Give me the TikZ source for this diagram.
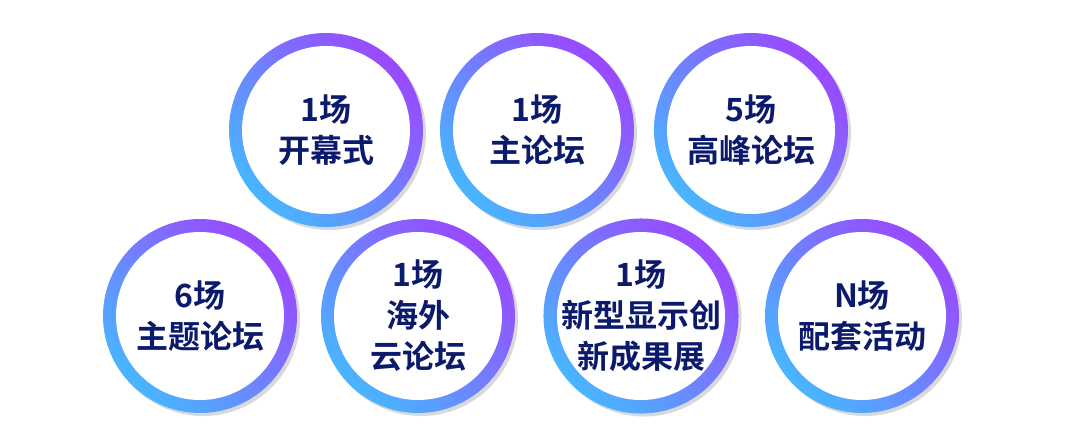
\documentclass[tikz,border=0pt]{standalone}
\usepackage{fontspec}
\newfontfamily\cjk{Noto Sans CJK SC}[BoldFont={Noto Sans CJK SC Bold}]
\usetikzlibrary{shadows}
\definecolor{ringblue}{HTML}{48B6FF}
\definecolor{ringpurple}{HTML}{9A48FF}
\definecolor{txtnavy}{HTML}{0B1A6B}
\tikzset{
  ringbox/.style={circle, minimum size=194pt, inner sep=0pt,
    left color=ringblue, right color=ringpurple, shading angle=135,
    drop shadow={shadow xshift=3pt, shadow yshift=-3pt, opacity=0.15, fill=black},
    path picture={\fill[white] (path picture bounding box.center) circle (84pt);},
    font=\cjk\bfseries\fontsize{32}{41}\selectfont, text=txtnavy, align=center}
}
\begin{document}
\begin{tikzpicture}[x=1pt,y=-1pt]
\useasboundingbox[fill=white] (0,0) rectangle (1080,444);
\node[ringbox] (c1) at (326,130) {1场\\开幕式};
\node[ringbox] (c2) at (537,130) {1场\\主论坛};
\node[ringbox] (c3) at (751,130) {5场\\高峰论坛};
\node[ringbox] (c4) at (200,316) {6场\\主题论坛};
\node[ringbox] (c5) at (418,316) {1场\\海外\\云论坛};
\node[ringbox] (c6) at (641,316) {1场\\新型显示创\\新成果展};
\node[ringbox] (c7) at (862,316) {N场\\配套活动};
\end{tikzpicture}
\end{document}
